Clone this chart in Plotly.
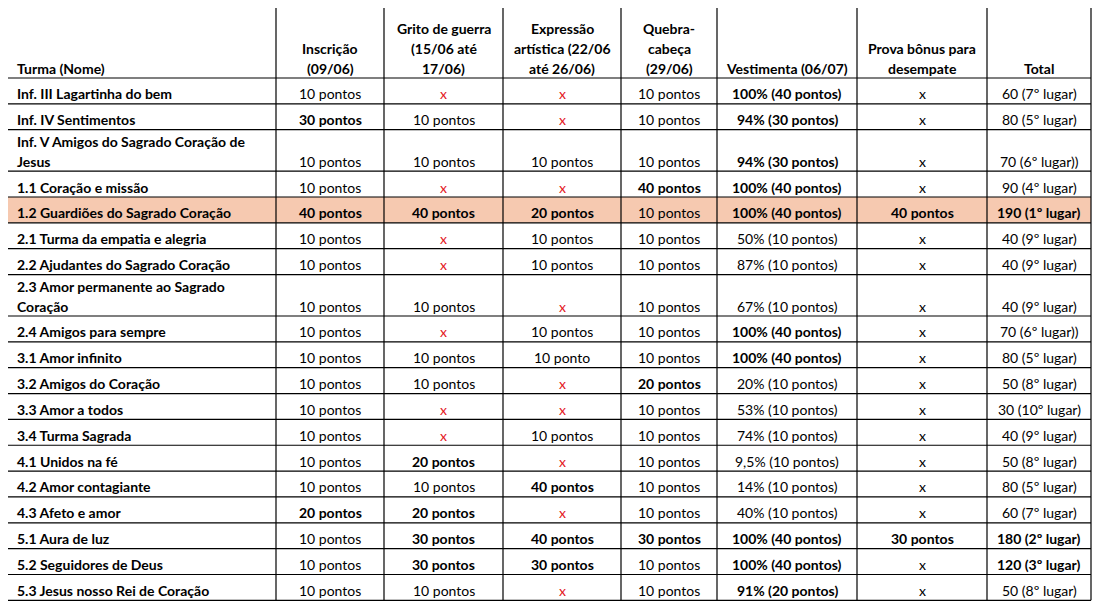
import re
import plotly.graph_objects as go

# cabeçalho da tabela
colunas = [
    "Turma (Nome)",
    "Inscrição<br>(09/06)",
    "Grito de guerra<br>(15/06 até<br>17/06)",
    "Expressão<br>artística (22/06<br>até 26/06)",
    "Quebra-<br>cabeça<br>(29/06)",
    "Vestimenta (06/07)",
    "Prova bônus para<br>desempate",
    "Total",
]

turmas = [
    "Inf. III Lagartinha do bem",
    "Inf. IV Sentimentos",
    "Inf. V Amigos do Sagrado Coração de<br>Jesus",
    "1.1 Coração e missão",
    "1.2 Guardiões do Sagrado Coração",
    "2.1 Turma da empatia e alegria",
    "2.2 Ajudantes do Sagrado Coração",
    "2.3 Amor permanente ao Sagrado<br>Coração",
    "2.4 Amigos para sempre",
    "3.1 Amor infinito",
    "3.2 Amigos do Coração",
    "3.3 Amor a todos",
    "3.4 Turma Sagrada",
    "4.1 Unidos na fé",
    "4.2 Amor contagiante",
    "4.3 Afeto e amor",
    "5.1 Aura de luz",
    "5.2 Seguidores de Deus",
    "5.3 Jesus nosso Rei de Coração",
]

inscricao = ["10 pontos", "30 pontos", "10 pontos", "10 pontos", "40 pontos",
             "10 pontos", "10 pontos", "10 pontos", "10 pontos", "10 pontos",
             "10 pontos", "10 pontos", "10 pontos", "10 pontos", "10 pontos",
             "20 pontos", "10 pontos", "10 pontos", "10 pontos"]

grito = ["x", "10 pontos", "10 pontos", "x", "40 pontos",
         "x", "x", "10 pontos", "x", "10 pontos",
         "10 pontos", "x", "x", "20 pontos", "10 pontos",
         "20 pontos", "30 pontos", "30 pontos", "10 pontos"]

expressao = ["x", "x", "10 pontos", "x", "20 pontos",
             "10 pontos", "10 pontos", "x", "10 pontos", "10 ponto",
             "x", "x", "10 pontos", "x", "40 pontos",
             "x", "40 pontos", "30 pontos", "x"]

quebra = ["10 pontos", "10 pontos", "10 pontos", "40 pontos", "10 pontos",
          "10 pontos", "10 pontos", "10 pontos", "10 pontos", "10 pontos",
          "20 pontos", "10 pontos", "10 pontos", "10 pontos", "10 pontos",
          "10 pontos", "30 pontos", "10 pontos", "10 pontos"]

vestimenta = ["100% (40 pontos)", "94% (30 pontos)", "94% (30 pontos)",
              "100% (40 pontos)", "100% (40 pontos)", "50% (10 pontos)",
              "87% (10 pontos)", "67% (10 pontos)", "100% (40 pontos)",
              "100% (40 pontos)", "20% (10 pontos)", "53% (10 pontos)",
              "74% (10 pontos)", "9,5% (10 pontos)", "14% (10 pontos)",
              "40% (10 pontos)", "100% (40 pontos)", "100% (40 pontos)",
              "91% (20 pontos)"]

prova = ["x", "x", "x", "x", "40 pontos", "x", "x", "x", "x", "x",
         "x", "x", "x", "x", "x", "x", "30 pontos", "x", "x"]

total = ["60 (7º lugar)", "80 (5º lugar)", "70 (6º lugar))", "90 (4º lugar)",
         "190 (1º lugar)", "40 (9º lugar)", "40 (9º lugar)", "40 (9º lugar)",
         "70 (6º lugar))", "80 (5º lugar)", "50 (8º lugar)", "30 (10º lugar)",
         "40 (9º lugar)", "50 (8º lugar)", "80 (5º lugar)", "60 (7º lugar)",
         "180 (2º lugar)", "120 (3º lugar)", "50 (8º lugar)"]

# estilo / geometria (px da página)
W, H = 1102, 608
MARGEM_PAG = 8        # margem padrão do <body>
VERMELHO = "#e3161b"
DESTAQUE = "#f6c9b0"
FONTE = "Lato"
TAM = 14
larguras = [269, 108, 119, 118, 96, 140, 130, 104]
X0, Y0 = 7, 7
ALT_CAB = 71
ALT_LINHA = 25.85
ALT_EXTRA = 15.6      # por linha extra de texto
ESPACO = 20           # espaçamento entre linhas de texto
BASE = 10             # centro da última linha acima da borda inferior
PAD = 8


def pontos(v):
    m = re.search(r"(\d+) pontos?", v)
    return int(m.group(1)) if m else 0


def lugar(v):
    m = re.search(r"\((\d+)º", v)
    return int(m.group(1)) if m else 99


bordas_x = [X0]
for w in larguras:
    bordas_x.append(bordas_x[-1] + w)

n_linhas = [t.count("<br>") + 1 for t in turmas]
bordas_y = [Y0, Y0 + ALT_CAB]
for n in n_linhas:
    bordas_y.append(bordas_y[-1] + ALT_LINHA + ALT_EXTRA * (n - 1))

colunas_dados = [inscricao, grito, expressao, quebra, vestimenta, prova]
x_vermelho = [False, True, True, False, False, False]

# monta células: (texto, negrito, cor) por coluna
celulas = [[(t, True, "black") for t in turmas]]
for col, verm in zip(colunas_dados, x_vermelho):
    celulas.append([(v, pontos(v) > 10, VERMELHO if (v == "x" and verm) else "black")
                    for v in col])
celulas.append([(v, lugar(v) <= 3, "black") for v in total])

fig = go.Figure()

# linha do 1º lugar
for i, v in enumerate(total):
    if lugar(v) == 1:
        fig.add_shape(type="rect", x0=bordas_x[0], x1=bordas_x[-1],
                      y0=bordas_y[i + 1], y1=bordas_y[i + 2],
                      fillcolor=DESTAQUE, line_width=0, layer="below")


def escreve(texto, j, y_fundo, negrito, cor):
    linhas = texto.split("<br>")
    for k, lin in enumerate(reversed(linhas)):
        y = y_fundo - BASE - ESPACO * k
        if j == 0:
            x, anc = bordas_x[0] + PAD, "left"
        else:
            x, anc = (bordas_x[j] + bordas_x[j + 1]) / 2, "center"
        fig.add_annotation(
            x=x, y=y, xref="x", yref="y",
            text="<b>" + lin + "</b>" if negrito else lin,
            showarrow=False, xanchor=anc, yanchor="middle",
            font=dict(family=FONTE, size=TAM, color=cor),
        )


for j, c in enumerate(colunas):
    escreve(c, j, bordas_y[1], True, "black")

for j, col in enumerate(celulas):
    for i, (v, negrito, cor) in enumerate(col):
        escreve(v, j, bordas_y[i + 2], negrito, cor)

# grade
for x in bordas_x:
    fig.add_shape(type="line", x0=x, x1=x, y0=bordas_y[0], y1=bordas_y[-1],
                  line=dict(color="black", width=1.2))
for y in bordas_y:
    fig.add_shape(type="line", x0=bordas_x[0], x1=bordas_x[-1], y0=y, y1=y,
                  line=dict(color="black", width=1.2))

# a figura começa em (8, 8) da página por causa da margem do body
fig.update_xaxes(range=[MARGEM_PAG, W], visible=False, fixedrange=True)
fig.update_yaxes(range=[H, MARGEM_PAG], visible=False, fixedrange=True)
fig.update_layout(
    width=W - MARGEM_PAG,
    height=H - MARGEM_PAG,
    margin=dict(l=0, r=0, t=0, b=0),
    paper_bgcolor="white",
    plot_bgcolor="white",
    showlegend=False,
    font=dict(family=FONTE),
)

fig.write_html("out.html")
